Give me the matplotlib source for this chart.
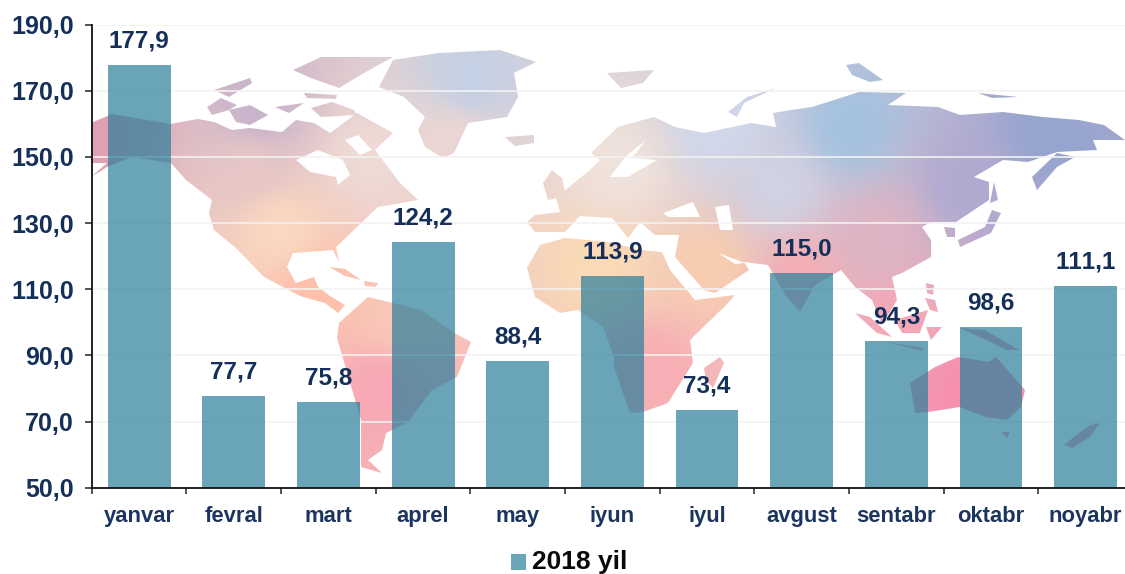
import numpy as np
import matplotlib
matplotlib.use("Agg")
import matplotlib.pyplot as plt
from matplotlib.path import Path
from matplotlib.patches import PathPatch, Polygon, Rectangle
from matplotlib.colors import to_rgb

months = ["yanvar", "fevral", "mart", "aprel", "may", "iyun", "iyul", "avgust", "sentabr", "oktabr", "noyabr"]
values = [177.9, 77.7, 75.8, 124.2, 88.4, 113.9, 73.4, 115.0, 94.3, 98.6, 111.1]
value_labels = ["177,9", "77,7", "75,8", "124,2", "88,4", "113,9", "73,4", "115,0", "94,3", "98,6", "111,1"]
y_ticks = [50, 70, 90, 110, 130, 150, 170, 190]
y_labels = ["50,0", "70,0", "90,0", "110,0", "130,0", "150,0", "170,0", "190,0"]
legend_label = "2018 yil"

plt.rcParams["font.family"] = ["Liberation Sans", "DejaVu Sans"]
plt.rcParams["text.kerning_factor"] = 6
W, H = 1125, 574
fig = plt.figure(figsize=(W / 100, H / 100), dpi=100, facecolor="white")

# Decorative world-map backdrop, in image pixel coordinates
land = [
    # North America
    [(91,123),(112,114),(170,124),(198,119),(214,122),(232,130),(250,128),(282,132),(296,120),(314,123),(330,133),(357,113),(393,133),(375,150),(400,183),(418,200),(378,207),(357,227),(336,247),(339,262),(333,250),(293,253),(287,267),(296,283),(314,277),(318,287),(330,296),(345,305),(338,313),(325,303),(300,296),(264,277),(236,248),(214,230),(209,213),(212,200),(186,180),(171,163),(132,157),(107,167),(91,177),(107,163),(91,163)],
    [(329,267),(345,269),(361,280),(345,276)],
    [(364,281),(378,283),(376,287),(365,286)],
    # South America
    [(337,338),(361,420),(361,467),(382,473),(368,460),(382,450),(386,433),(407,423),(432,390),(457,377),(471,342),(453,332),(421,310),(393,303),(368,297),(339,323)],
    # Greenland
    [(379,87),(393,60),(439,53),(500,50),(536,62),(514,73),(518,97),(507,117),(468,123),(454,153),(443,158),(425,147),(418,130),(425,117),(404,97)],
    # Arctic Canada
    [(293,70),(321,57),(393,57),(364,73),(339,88),(311,78)],
    [(207,107),(221,98),(237,105),(229,110),(212,115)],
    [(229,110),(250,105),(268,115),(250,125),(236,122)],
    [(311,108),(332,102),(354,110),(357,115),(321,117)],
    [(214,90),(250,78),(252,83),(229,97)],
    [(304,93),(337,95),(336,99),(307,98)],
    [(275,107),(304,103),(289,113)],
    # Iceland, UK
    [(505,137),(534,135),(534,143),(515,146)],
    [(543,183),(552,170),(562,178),(566,196),(548,200)],
    # Eurasia
    [(591,153),(618,127),(654,117),(675,127),(704,133),(751,123),(776,127),(773,113),(791,110),(812,107),(859,92),(906,93),(888,105),(938,107),(960,115),(1003,112),(1043,117),(1079,120),(1104,125),(1125,140),(1093,140),(1097,150),(1057,152),(1028,162),(1003,160),(974,177),(989,182),(989,200),(956,222),(931,222),(922,227),(931,240),(931,257),(902,273),(892,277),(897,300),(882,325),(872,300),(855,287),(841,270),(815,285),(800,312),(785,295),(768,265),(744,262),(749,270),(715,293),(704,290),(675,257),(679,235),(655,235),(640,222),(628,238),(612,218),(580,216),(565,232),(535,232),(527,222),(535,215),(560,212),(556,198),(580,178),(590,170),(600,160)],
    # Africa, Madagascar
    [(527,268),(540,245),(565,238),(610,242),(640,250),(662,252),(670,270),(695,300),(735,295),(726,305),(690,340),(693,363),(668,403),(643,412),(630,413),(614,367),(614,357),(603,327),(578,310),(560,313),(535,297)],
    [(704,368),(720,357),(724,363),(713,388),(706,380)],
    # Russian Arctic, Kamchatka, Far East
    [(728,112),(747,97),(776,88),(765,93),(744,103),(737,117)],
    [(607,73),(654,70),(643,83),(621,88)],
    [(846,65),(859,63),(883,80),(870,82),(852,75)],
    [(978,93),(1018,97),(992,98)],
    [(1057,153),(1032,177),(1037,190),(1057,167),(1075,157)],
    [(994,182),(998,200),(990,203)],
    [(992,210),(1001,213),(991,233),(960,247),(958,240),(985,227)],
    [(944,227),(955,228),(955,237),(947,237)],
    [(926,283),(934,285),(933,295),(927,293)],
    [(925,298),(935,300),(938,312),(930,310)],
    # South-East Asia, Oceania
    [(855,313),(870,317),(892,337),(877,333)],
    [(895,320),(928,310),(920,333),(902,333)],
    [(886,342),(924,348),(922,351)],
    [(926,327),(942,327),(931,340)],
    [(960,328),(985,330),(1019,350),(1007,350),(982,338)],
    [(910,383),(935,367),(958,357),(989,362),(996,357),(1025,390),(1021,407),(1007,420),(985,417),(960,407),(928,412),(915,413)],
    [(1001,432),(1010,432),(1007,438)],
    [(1100,423),(1090,425),(1079,433),(1064,445),(1072,448),(1090,437)],
]
seas = [
    [(296,160),(318,150),(343,160),(350,175),(338,185),(336,177),(310,172)],
    [(646,140),(625,157),(610,177),(628,177),(657,160),(632,158)],
    [(663,213),(693,202),(700,217),(668,217)],
    [(715,207),(729,205),(733,230),(720,230)],
    [(718,253),(745,263),(735,264)],
    [(358,135),(372,150),(360,155),(345,140)],
]
anchors = [
    (100,130,"#DFA0B2"),(260,110,"#C8B4CC"),(250,170,"#E6C6C6"),(280,230,"#FBD8C0"),
    (470,80,"#C4D0E4"),(450,140,"#EAD6D4"),(370,160,"#EFDAD5"),(320,290,"#FFC0AA"),
    (400,320,"#F8C8B8"),(380,390,"#F8A8B4"),(600,270,"#FBDAB4"),(650,370,"#F8AEB4"),
    (620,170,"#F0E2DC"),(720,130,"#CFD8EA"),(850,130,"#A4C2E0"),(1050,140,"#96A5D0"),
    (780,190,"#D0D2E4"),(970,190,"#B0AAD2"),(880,240,"#DDB4C4"),(800,280,"#F3AEB4"),
    (900,320,"#F4A9B8"),(970,390,"#F690AE"),(1080,435,"#F5A0B4"),(710,270,"#F9CDB0"),
]
ax_map = fig.add_axes([0, 0, 1, 1])
ax_map.set_xlim(0, W); ax_map.set_ylim(H, 0); ax_map.axis("off")
gx, gy = np.meshgrid(np.arange(0, W, 3) + 1.5, np.arange(0, H, 3) + 1.5)
wsum = np.zeros_like(gx); field = np.zeros(gx.shape + (3,))
for ax0, ay0, col in anchors:
    w = 1 / (np.hypot(gx - ax0, gy - ay0) + 5) ** 3
    wsum += w
    field += w[..., None] * np.array(to_rgb(col))
field /= wsum[..., None]
im = ax_map.imshow(field, extent=(0, W, H, 0), interpolation="bilinear", zorder=1, aspect="auto")
verts, codes = [], []
for poly in land:
    verts += poly + [poly[0]]
    codes += [Path.MOVETO] + [Path.LINETO] * (len(poly) - 1) + [Path.CLOSEPOLY]
clip = PathPatch(Path(verts, codes), transform=ax_map.transData, fc="none", ec="none")
ax_map.add_patch(clip)
im.set_clip_path(clip)
for poly in seas:
    ax_map.add_patch(Polygon(poly, closed=True, fc="white", ec="none", zorder=2))

# Chart
left, top, bottom = 91.8, 24.7, 487.7
ax = fig.add_axes([left / W, 1 - bottom / H, (W - left) / W, (bottom - top) / H])
ax.patch.set_alpha(0)
slot = 94.65
x = np.arange(len(months))
ax.bar(x, values, width=0.665, color="#2A7E9B", alpha=0.7, zorder=3, linewidth=0)
ax.set_yticks(y_ticks, y_labels, fontsize=18, fontweight="bold", color="#14305A")
ax.set_xticks(x, months, fontsize=15.8, fontweight="bold", color="#1B3560")
ax.set_xticks(np.arange(len(months)) - 0.5, minor=True)
ax.set_xlim(-0.5, -0.5 + (W - left) / slot)
ax.set_ylim(50, 190)
ax.tick_params(axis="x", which="major", length=0, pad=13)
ax.tick_params(axis="x", which="minor", length=4.5, width=1.1, color="#222222")
ax.tick_params(axis="y", length=5, width=1.1, color="#222222", pad=8)
ax.grid(axis="y", color="#F2F2F2", linewidth=1.2, zorder=1)
ax.set_axisbelow(True)
for s in ("top", "right"):
    ax.spines[s].set_visible(False)
for s in ("left", "bottom"):
    ax.spines[s].set_linewidth(1.3)
    ax.spines[s].set_color("#111111")
    ax.spines[s].set_zorder(5)
for xi, v, t in zip(x, values, value_labels):
    ax.annotate(t, (xi, v), xytext=(0, 9), textcoords="offset points", ha="center", va="bottom",
                fontsize=17.5, fontweight="bold", color="#14305A", zorder=6)

# Legend
fig.patches.append(Rectangle((511 / W, 1 - 569.5 / H), 15 / W, 15.5 / H, transform=fig.transFigure,
                             fc="#6BA5B9", ec="none"))
fig.text(532 / W, 1 - 562 / H, legend_label, fontsize=19, fontweight="bold", color="#0A0A0A", ha="left", va="center")

fig.savefig("out.png", dpi=100)
